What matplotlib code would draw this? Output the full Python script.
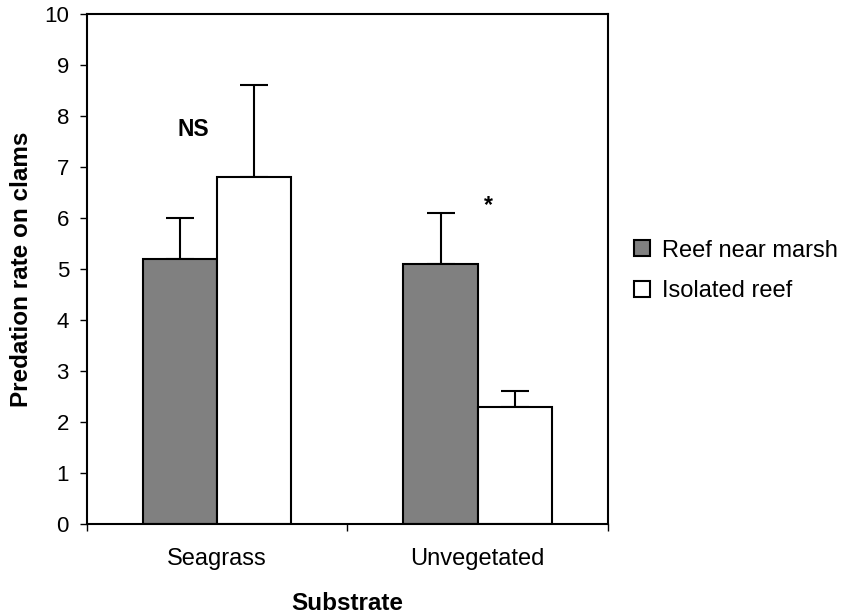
import numpy as np
import matplotlib.pyplot as plt

plt.rcParams['font.family'] = ['Liberation Sans', 'DejaVu Sans']

# --- Data ---
substrates = ['Seagrass', 'Unvegetated']
near_marsh = [5.2, 5.1]      # mean predation, reef near marsh
near_marsh_err = [0.8, 1.0]
isolated = [6.8, 2.3]        # mean predation, isolated reef
isolated_err = [1.8, 0.3]
series_names = ['Reef near marsh', 'Isolated reef']

# --- Figure ---
fig = plt.figure(figsize=(8.49, 6.14), dpi=100)
ax = fig.add_axes([0.1025, 0.1466, 0.6135, 0.8306])

x = np.arange(len(substrates)) + 0.5
w = 0.285
err_kw = dict(ecolor='black', elinewidth=1.5, capsize=10, capthick=1.5)

ax.bar(x - w / 2, near_marsh, w, color='#808080', edgecolor='black', linewidth=1.5,
       label=series_names[0], zorder=2)
ax.bar(x + w / 2, isolated, w, color='white', edgecolor='black', linewidth=1.5,
       label=series_names[1], zorder=2)
# upper error bars only
ax.errorbar(x - w / 2, near_marsh, yerr=[np.zeros(2), near_marsh_err], fmt='none', zorder=1, **err_kw)
ax.errorbar(x + w / 2, isolated, yerr=[np.zeros(2), isolated_err], fmt='none', zorder=1, **err_kw)

# significance labels
ax.text(0.408, 7.73, 'NS', ha='center', va='center', fontsize=16.5, fontweight='bold')
ax.text(1.542, 6.25, '*', ha='center', va='center', fontsize=16.5, fontweight='bold')

# --- Axes styling ---
fs = 17
ax.set_xlim(0, 2)
ax.set_ylim(0, 10)
ax.set_yticks(range(0, 11))
ax.set_xticks([0, 1, 2])
ax.set_xticklabels([])
ax.set_xticks(x, minor=True)
ax.set_xticklabels(substrates, minor=True)
ax.tick_params(axis='x', which='major', length=5, width=1, direction='out')
ax.tick_params(axis='x', which='minor', length=0, pad=17, labelsize=fs)
ax.tick_params(axis='y', length=5, width=1, direction='out', labelsize=16, pad=8)
for s in ax.spines.values():
    s.set_linewidth(1.5)

ax.set_xlabel('Substrate', fontsize=17.5, fontweight='bold', labelpad=16)
ax.set_ylabel('Predation rate on clams', fontsize=17.5, fontweight='bold', labelpad=8)

fig.legend(loc='center left', bbox_to_anchor=(0.747, 0.5586), bbox_transform=fig.transFigure,
           frameon=False, fontsize=fs, borderpad=0, borderaxespad=0,
           handlelength=0.68, handleheight=0.68, handletextpad=0.5, labelspacing=0.8)

fig.savefig('out.png', dpi=100)
